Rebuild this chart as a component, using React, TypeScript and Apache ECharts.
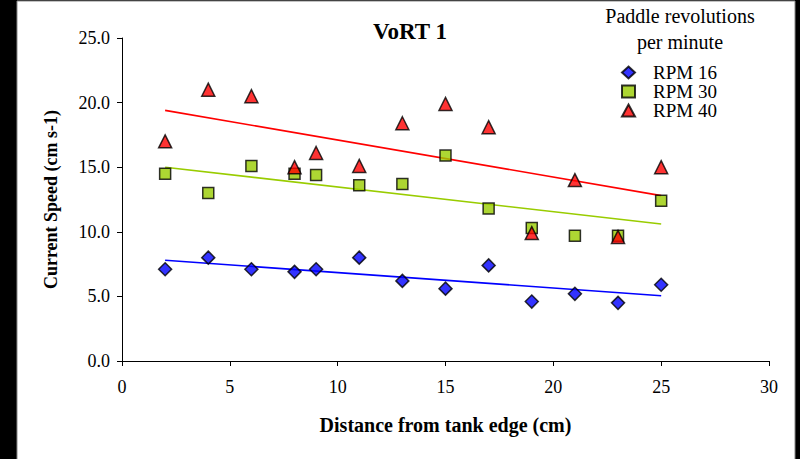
import React, { useEffect, useRef } from "react";
import * as echarts from "echarts";

const distances = [2, 4, 6, 8, 9, 11, 13, 15, 17, 19, 21, 23, 25];
const rpm16 = [7.1, 8.0, 7.1, 6.9, 7.1, 8.0, 6.2, 5.6, 7.4, 4.6, 5.2, 4.5, 5.9];
const rpm30 = [14.5, 13.0, 15.1, 14.5, 14.4, 13.6, 13.7, 15.9, 11.8, 10.3, 9.7, 9.7, 12.4];
const rpm40 = [17.0, 21.0, 20.5, 15.0, 16.1, 15.1, 18.4, 19.9, 18.1, 9.9, 14.0, 9.6, 15.0];
const trendX = [2, 25];
const trend16 = [7.8, 5.05];
const trend30 = [15.0, 10.6];
const trend40 = [19.4, 12.8];
const xTicks = [0, 5, 10, 15, 20, 25, 30];
const yTicks = [0, 5, 10, 15, 20, 25];
const seriesNames = ["RPM 16", "RPM 30", "RPM 40"];

const FONT = "Liberation Serif";

export default function App() {
  const ref = useRef<HTMLDivElement>(null);
  useEffect(() => {
    if (!ref.current) return;
    const chart = echarts.init(ref.current, undefined, { renderer: "svg" });
    const pts = (ys: number[]) => distances.map((x, i) => [x, ys[i]]);
    const tl = (ys: number[]) => trendX.map((x, i) => [x, ys[i]]);
    const scatter = (name: string, ys: number[], symbol: string, size: number, color: string) => ({
      name,
      type: "scatter",
      data: pts(ys),
      symbol,
      symbolSize: size,
      itemStyle: { color, borderColor: "#000", borderWidth: 1.5 },
      z: 5,
    });
    const line = (ys: number[], color: string) => ({
      type: "line",
      data: tl(ys),
      symbol: "none",
      lineStyle: { color, width: 1.6 },
      z: 3,
      silent: true,
    });
    chart.setOption({
      animation: false,
      backgroundColor: "#000",
      textStyle: { fontFamily: FONT },
      graphic: [
        {
          type: "rect",
          shape: { x: 17, y: 1, width: 778, height: 470 },
          style: { fill: "#fff", stroke: "#888", lineWidth: 1 },
          z: -10,
        },
        {
          type: "text",
          x: 680,
          y: 16,
          style: { text: "Paddle revolutions", fontFamily: FONT, fontSize: 20, fill: "#000", align: "center", verticalAlign: "middle" },
        },
        {
          type: "text",
          x: 680,
          y: 42,
          style: { text: "per minute", fontFamily: FONT, fontSize: 20, fill: "#000", align: "center", verticalAlign: "middle" },
        },
      ],
      title: {
        text: "VoRT 1",
        left: 405,
        top: 15,
        textAlign: "center",
        textStyle: { fontFamily: FONT, fontSize: 23, fontWeight: "bold", color: "#000" },
      },
      legend: {
        data: seriesNames,
        orient: "vertical",
        left: 616,
        top: 58,
        itemGap: 0,
        itemWidth: 13,
        itemHeight: 12,
        textStyle: { fontFamily: FONT, fontSize: 19, color: "#000", padding: [0, 0, 0, 13] },
      },
      grid: { left: 122, right: 31, top: 38, bottom: 98, containLabel: false },
      xAxis: {
        type: "value",
        min: xTicks[0],
        max: xTicks[xTicks.length - 1],
        interval: 5,
        name: "Distance from tank edge (cm)",
        nameLocation: "middle",
        nameGap: 54,
        nameTextStyle: { fontFamily: FONT, fontSize: 20, fontWeight: "bold", color: "#000" },
        axisLine: { lineStyle: { color: "#000", width: 1 } },
        axisTick: { show: true, length: 5, lineStyle: { color: "#000" } },
        axisLabel: { fontFamily: FONT, fontSize: 18, color: "#000", margin: 17 },
        splitLine: { show: false },
      },
      yAxis: {
        type: "value",
        min: yTicks[0],
        max: yTicks[yTicks.length - 1],
        interval: 5,
        name: "Current Speed (cm s-1)",
        nameLocation: "middle",
        nameGap: 62,
        nameTextStyle: { fontFamily: FONT, fontSize: 18, fontWeight: "bold", color: "#000" },
        axisLine: { show: true, lineStyle: { color: "#000", width: 1 } },
        axisTick: { show: true, length: 5, lineStyle: { color: "#000" } },
        axisLabel: {
          fontFamily: FONT,
          fontSize: 18,
          color: "#000",
          margin: 12,
          formatter: (v: number) => v.toFixed(1),
        },
        splitLine: { show: false },
      },
      series: [
        line(trend16, "#0000ff"),
        line(trend30, "#99cc00"),
        line(trend40, "#ff0000"),
        scatter(seriesNames[0], rpm16, "diamond", 13, "#0000ff"),
        scatter(seriesNames[1], rpm30, "rect", 11, "#99cc00"),
        scatter(seriesNames[2], rpm40, "triangle", 13, "#ff0000"),
      ],
    });
    return () => chart.dispose();
  }, []);
  return <div ref={ref} style={{ position: "fixed", left: 0, top: 0, width: 800, height: 459 }} />;
}
